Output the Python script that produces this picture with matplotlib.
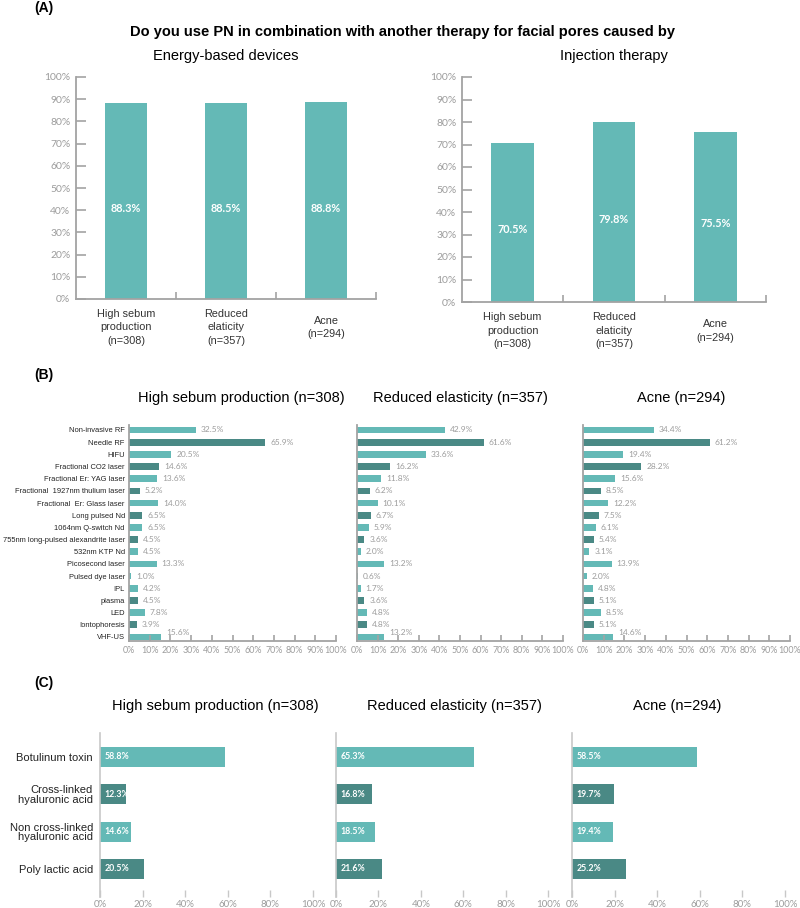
import matplotlib.pyplot as plt
import numpy as np

plt.rcParams["font.family"] = ["Liberation Sans", "DejaVu Sans"]

LIGHT = "#64b9b6"
DARK = "#4a8985"
GREY = "#9c9c9c"
AXIS = "#a3a3a3"
NUMFONT = "Lato"

W, H = 800, 908

# Data ------------------------------------------------------------------------------- #

a_groups = ["High sebum\nproduction\n(n=308)", "Reduced\nelaticity\n(n=357)", "Acne\n(n=294)"]
a_energy = [88.3, 88.5, 88.8]
a_injection = [70.5, 79.8, 75.5]

b_devices = [
    "Non-invasive RF",
    "Needle RF",
    "HIFU",
    "Fractional CO2 laser",
    "Fractional Er: YAG laser",
    "Fractional  1927nm thulium laser",
    "Fractional  Er: Glass laser",
    "Long pulsed Nd",
    "1064nm Q-switch Nd",
    "755nm long-pulsed alexandrite laser",
    "532nm KTP Nd",
    "Picosecond laser",
    "Pulsed dye laser",
    "IPL",
    "plasma",
    "LED",
    "Iontophoresis",
    "VHF-US",
]
b_sebum = [32.5, 65.9, 20.5, 14.6, 13.6, 5.2, 14.0, 6.5, 6.5, 4.5, 4.5, 13.3, 1.0, 4.2, 4.5, 7.8, 3.9, 15.6]
b_elastic = [42.9, 61.6, 33.6, 16.2, 11.8, 6.2, 10.1, 6.7, 5.9, 3.6, 2.0, 13.2, 0.6, 1.7, 3.6, 4.8, 4.8, 13.2]
b_acne = [34.4, 61.2, 19.4, 28.2, 15.6, 8.5, 12.2, 7.5, 6.1, 5.4, 3.1, 13.9, 2.0, 4.8, 5.1, 8.5, 5.1, 14.6]
b_shade = [0, 1, 0, 1, 0, 1, 0, 1, 0, 1, 0, 0, 0, 0, 1, 0, 1, 0]

c_injectables = [
    "Botulinum toxin",
    "Cross-linked\nhyaluronic acid",
    "Non cross-linked\nhyaluronic acid",
    "Poly lactic acid",
]
c_sebum = [58.8, 12.3, 14.6, 20.5]
c_elastic = [65.3, 16.8, 18.5, 21.6]
c_acne = [58.5, 19.7, 19.4, 25.2]
c_shade = [0, 1, 0, 1]

titles_bc = ["High sebum production (n=308)", "Reduced elasticity (n=357)", "Acne (n=294)"]


def px_axes(fig, left, top, right, bottom):
    return fig.add_axes([left / W, 1 - bottom / H, (right - left) / W, (bottom - top) / H])


def ftext(fig, x, y, s, **kw):
    fig.text(x / W, 1 - y / H, s, ha="center", va="center", **kw)


fig = plt.figure(figsize=(W / 100, H / 100), dpi=100)

# Panel A ---------------------------------------------------------------------------- #

ftext(fig, 44, 8, "(A)", fontsize=10, fontweight="bold")
ftext(fig, 403, 32, "Do you use PN in combination with another therapy for facial pores caused by",
      fontsize=10.5, fontweight="bold")


def panel_a(ax, vals, subtitle):
    x = np.arange(len(vals))
    ax.bar(x, vals, width=0.42, color=LIGHT)
    ax.set_xlim(-0.5, len(vals) - 0.5)
    ax.set_ylim(0, 100)
    ax.set_yticks(range(0, 101, 10))
    ax.set_yticklabels([f"{v}%" for v in range(0, 101, 10)], fontsize=7.5, color=GREY, family=NUMFONT)
    ax.tick_params(axis="y", direction="in", length=7, width=1.2, color=AXIS, pad=4)
    ax.set_xticks(x + 0.5)
    ax.set_xticklabels([])
    ax.tick_params(axis="x", direction="in", length=5, width=1.2, color=AXIS)
    for s in ["top", "right"]:
        ax.spines[s].set_visible(False)
    for s in ["left", "bottom"]:
        ax.spines[s].set_color(AXIS)
        ax.spines[s].set_linewidth(1.3)
    for i, v in enumerate(vals):
        ax.text(i, v * 0.46, f"{v}%", color="white", fontweight="bold", fontsize=7.8,
                ha="center", va="center", family=NUMFONT)
    for i, lab in enumerate(a_groups):
        ax.text(i, -0.128, lab, transform=ax.get_xaxis_transform(), ha="center", va="center",
                fontsize=7.8, color="#333333", linespacing=1.45)
    ax.set_title(subtitle, fontsize=10.5, pad=12)


ax = px_axes(fig, 76, 77, 376, 299)
panel_a(ax, a_energy, "Energy-based devices")
ax = px_axes(fig, 462, 77, 766, 302)
panel_a(ax, a_injection, "Injection therapy")

# Panel B ---------------------------------------------------------------------------- #

ftext(fig, 44, 375, "(B)", fontsize=10, fontweight="bold")

b_series = [b_sebum, b_elastic, b_acne]
b_boxes = [(129, 336), (357, 563), (583, 790)]
b_title_x = [241, 460, 681]
for k, (vals, (l, r)) in enumerate(zip(b_series, b_boxes)):
    ax = px_axes(fig, l, 425, r, 641)
    y = np.arange(len(vals))
    cols = [DARK if s else LIGHT for s in b_shade]
    ax.barh(y, vals, height=0.55, color=cols)
    ax.set_xlim(0, 100)
    ax.set_ylim(17.33, -0.41)
    for i, v in enumerate(vals):
        # the bottom label sits a little higher, clear of the axis
        dy = 3 if i == len(vals) - 1 else 0
        ax.annotate(f"{v}%", (v, i), xytext=(3.5, dy), textcoords="offset points",
                    va="center", ha="left", fontsize=6, color=GREY, family=NUMFONT)
    ax.set_xticks(range(0, 101, 10))
    ax.set_xticklabels([f"{v}%" for v in range(0, 101, 10)], fontsize=6.4, color=GREY, family=NUMFONT)
    ax.tick_params(axis="x", direction="in", length=4.5, width=1.2, color=AXIS, pad=3.5)
    ax.set_yticks(y)
    if k == 0:
        ax.set_yticklabels(b_devices, fontsize=5.4, color="#222222")
    else:
        ax.set_yticklabels([])
    ax.tick_params(axis="y", length=0, pad=3)
    for s in ["top", "right"]:
        ax.spines[s].set_visible(False)
    for s in ["left", "bottom"]:
        ax.spines[s].set_color(AXIS)
        ax.spines[s].set_linewidth(1.3)
    ftext(fig, b_title_x[k], 398, titles_bc[k], fontsize=10.5)

# Panel C ---------------------------------------------------------------------------- #

ftext(fig, 44, 683, "(C)", fontsize=10, fontweight="bold")

c_series = [c_sebum, c_elastic, c_acne]
c_boxes = [(100, 313), (336, 548), (572, 785)]
c_title_x = [215, 454, 677]
for k, (vals, (l, r)) in enumerate(zip(c_series, c_boxes)):
    ax = px_axes(fig, l, 733, r, 897)
    y = np.arange(len(vals))
    cols = [DARK if s else LIGHT for s in c_shade]
    ax.barh(y, vals, height=0.54, color=cols)
    ax.set_xlim(0, 100)
    ax.set_ylim(3.75, -0.64)
    for i, v in enumerate(vals):
        ax.annotate(f"{v}%", (0, i), xytext=(3, 0), textcoords="offset points",
                    va="center", ha="left", fontsize=6.3, color="white", fontweight="bold",
                    family=NUMFONT)
    ax.set_xticks(range(0, 101, 20))
    ax.set_xticklabels([f"{v}%" for v in range(0, 101, 20)], fontsize=7, color=GREY, family=NUMFONT)
    ax.tick_params(axis="x", direction="in", length=5, width=1, color="#c8c8c8", pad=2)
    ax.set_yticks(y)
    if k == 0:
        ax.set_yticklabels(c_injectables, fontsize=8, color="#222222", linespacing=0.95)
    else:
        ax.set_yticklabels([])
    ax.tick_params(axis="y", length=0, pad=5)
    for s in ["top", "right", "bottom"]:
        ax.spines[s].set_visible(False)
    ax.spines["left"].set_color("#c8c8c8")
    ax.spines["left"].set_linewidth(1.2)
    ftext(fig, c_title_x[k], 706, titles_bc[k], fontsize=10.5)

fig.savefig("out.png", dpi=100)
